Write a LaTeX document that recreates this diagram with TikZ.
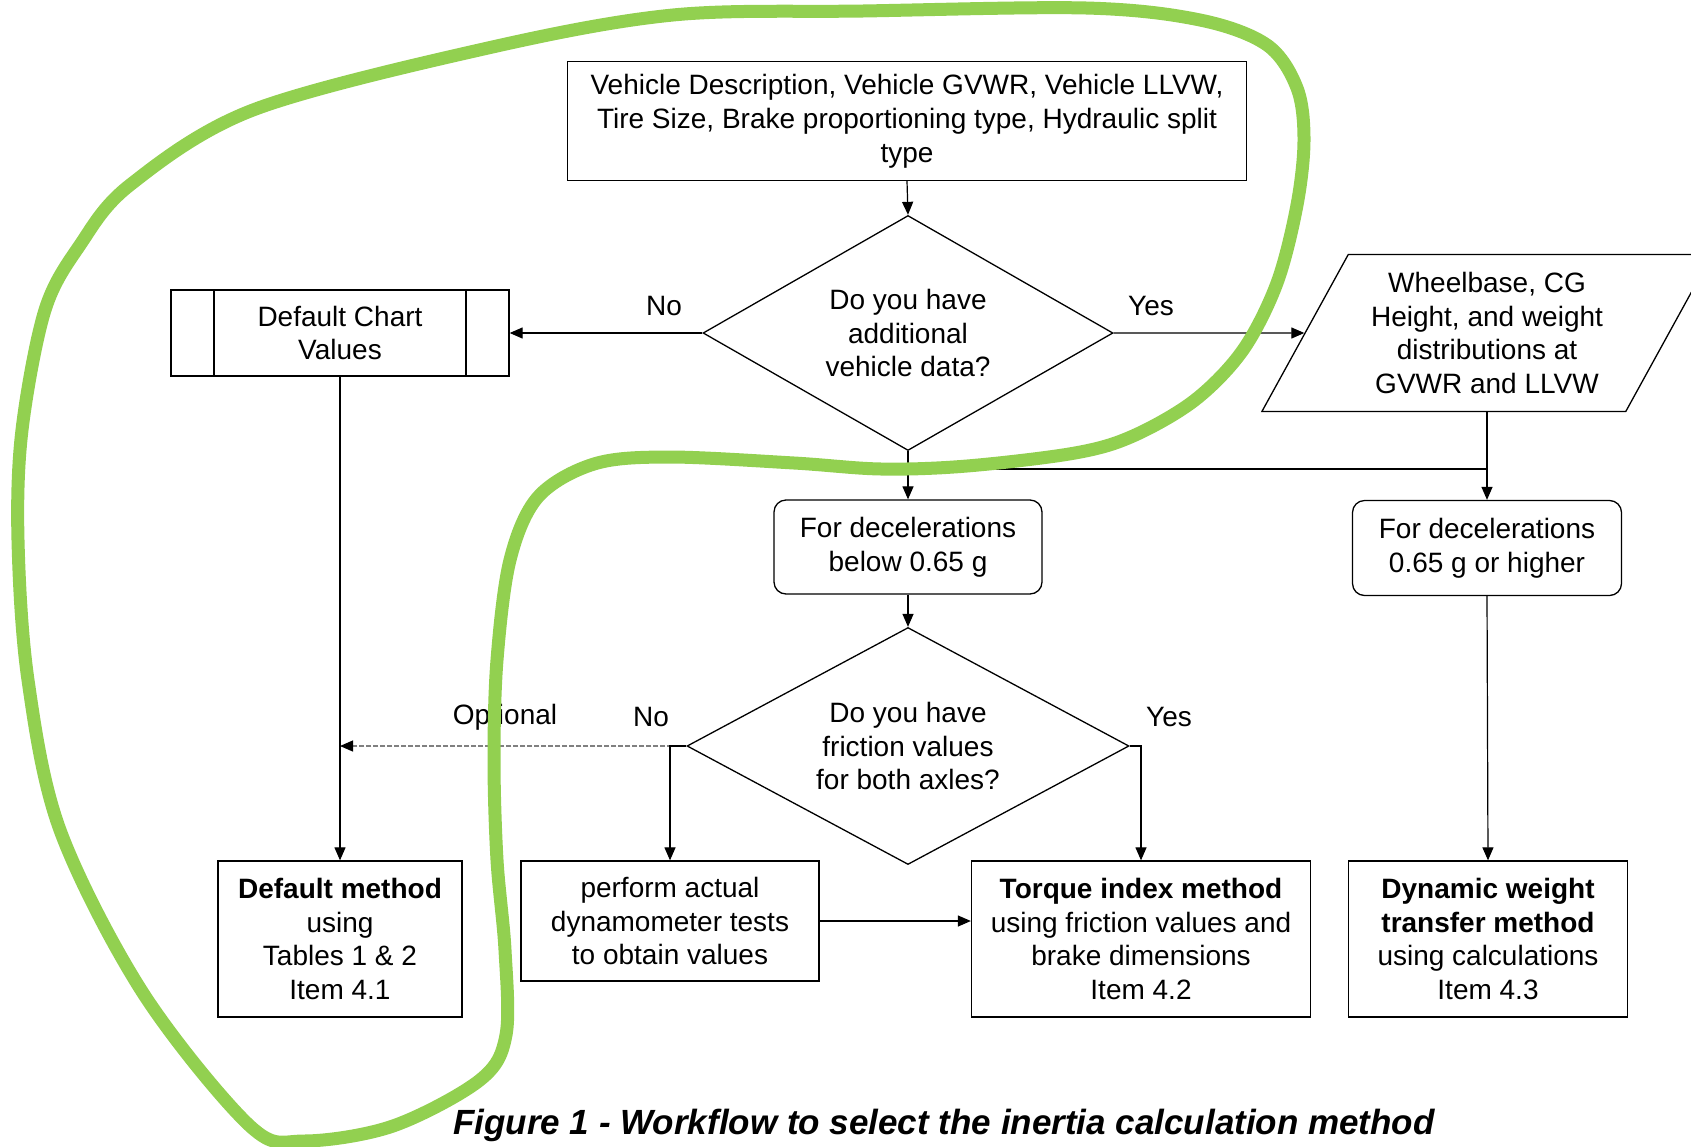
\documentclass[tikz,border=0pt]{standalone}
\usepackage{fontspec}
\setmainfont{Liberation Sans}
\usepackage{xcolor}
\usetikzlibrary{arrows.meta,positioning,shapes.geometric}
\definecolor{markgreen}{RGB}{146,208,80}

\begin{document}
\begin{tikzpicture}[
x=1pt, y=-1pt,
font=\fontsize{28}{33.8}\selectfont,
box/.style={
    rectangle,
    draw,
    line width=1.3pt,
    align=center,
    inner sep=2pt
},
rbox/.style={box, rounded corners=12pt},
decision/.style={
    diamond,
    draw,
    aspect=1.8,
    line width=1.3pt,
    align=center,
    inner sep=0pt
},
predef/.style={
    box,
    path picture={
        \draw[line width=1.3pt]
            ([xshift=43pt]path picture bounding box.north west) -- ([xshift=43pt]path picture bounding box.south west)
            ([xshift=-43pt]path picture bounding box.north east) -- ([xshift=-43pt]path picture bounding box.south east);
    }
},
slanted/.style={
    trapezium,
    draw,
    line width=1.3pt,
    align=center,
    trapezium left angle=60,
    trapezium right angle=120,
    trapezium stretches=true
},
lbl/.style={inner sep=0pt},
arr/.style={-{Triangle[length=13pt,width=11pt]}, line width=1.2pt},
dasharr/.style={-{Triangle[length=13pt,width=11pt,color=black]}, line width=1.2pt, gray, dash pattern=on 5pt off 2pt},
greenmark/.style={line width=13pt, markgreen, line cap=round, line join=round}
]
\useasboundingbox (0,0) rectangle (1691,1146);
\clip (0,0) rectangle (1691,1146);

\node[box, minimum width=679, minimum height=119] (vdata) at (907,121) {Vehicle Description, Vehicle GVWR, Vehicle LLVW,\\Tire Size, Brake proportioning type, Hydraulic split\\type};
\node[decision, minimum width=410, minimum height=235] (q1) at (908,333) {Do you have\\additional\\vehicle data?};
\node[predef, minimum width=338, minimum height=86] (chart) at (340,333) {Default Chart\\Values};
\node[slanted, minimum width=451, minimum height=157] (wbase) at (1487,333) {Wheelbase, CG\\Height, and weight\\distributions at\\GVWR and LLVW};

\node[rbox, minimum width=268, minimum height=94] (dec1) at (908,547) {For decelerations\\below 0.65 g};
\node[rbox, minimum width=269, minimum height=95] (dec2) at (1487,548) {For decelerations\\0.65 g or higher};
\coordinate (split) at (1487,469);

\node[decision, minimum width=442, minimum height=237] (q2) at (908,746) {Do you have\\friction values\\for both axles?};

\node[box, minimum width=244, minimum height=156] (defm) at (340,939) {\textbf{Default method}\\using\\Tables 1 \& 2\\Item 4.1};
\node[box, minimum width=298, minimum height=120] (dyno) at (670,921) {perform actual\\dynamometer tests\\to obtain values};
\node[box, minimum width=339, minimum height=156] (torq) at (1141,939) {\textbf{Torque index method}\\using friction values and\\brake dimensions\\Item 4.2};
\node[box, minimum width=279, minimum height=156] (dwt) at (1488,939) {\textbf{Dynamic weight}\\\textbf{transfer method}\\using calculations\\Item 4.3};

% branch labels
\node[lbl] (no1) at (664,306) {No};
\node[lbl] (yes1) at (1151,306) {Yes};
\node[lbl] (no2) at (651,717) {No};
\node[lbl] (yes2) at (1169,717) {Yes};
\node[lbl] (opt) at (505,717) {Optional};

\draw[arr] (vdata.south) -- (q1.north);
\draw[arr] (q1.west) -- (chart.east);
\draw[arr] (q1.east) -- (wbase);
\draw[arr] (q1.south) -- (dec1.north);
\draw[arr] (wbase.center |- wbase.south) -- (dec2.north);
\draw[line width=1.2pt] (split) -- (split -| q1.south);
\draw[arr] (dec1.south) -- (q2.north);
\draw[dasharr] (q2.west) -- (q2.west -| chart.south);
\draw[arr] (q2.west) -| (dyno.north);
\draw[arr] (q2.east) -| (torq.north);
\draw[arr] (chart.south) -- (defm.north);
\draw[arr] (dyno.east) -- (dyno.east -| torq.west);
\draw[arr] (dec2.south) -- (dwt.north);

\node (caption) at (944,1125) {\fontsize{35}{40}\selectfont\bfseries\itshape Figure 1 - Workflow to select the inertia calculation method};

% hand drawn mark
\draw[greenmark] plot[smooth cycle, tension=0.55] coordinates {
    (673,15) (863,11) (1086,8) (1200,20) (1267,45) (1297,88) (1304,140) (1297,205)
    (1277,283) (1243,350) (1195,400) (1133,436) (1075,453) (967,466) (881,469) (794,463)
    (668,457) (594,464) (538,497) (510,560) (497,660) (494,760) (497,860) (505,950)
    (506,1035) (480,1080) (393,1126) (304,1141) (250,1126) (143,993) (60,830) (28,680)
    (18,540) (22,430) (45,310) (80,245) (130,185) (253,110) (488,48)
};
\end{tikzpicture}
\end{document}
